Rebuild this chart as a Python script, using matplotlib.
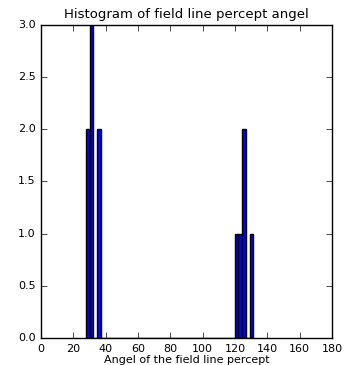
import matplotlib
matplotlib.use("Agg")
import matplotlib.pyplot as plt

plt.style.use("classic")

angles = [27.8, 28.5, 30.5, 31.0, 31.5, 35.5, 36.0,
          120.5, 122.8, 125.0, 125.5, 131.3]
n_bins = 45
title = "Histogram of field line percept angel"
xlabel = "Angel of the field line percept"

fig = plt.figure(figsize=(3.5, 3.65), dpi=100)
ax = fig.add_axes([0.117, 0.074, 0.832, 0.858])
ax.hist(angles, bins=n_bins, facecolor="blue", edgecolor="black", linewidth=1)
ax.set_xlim(0, 180)
ax.set_ylim(0, 3.0)
ax.set_xticks(range(0, 181, 20))
ax.set_yticks([0, 0.5, 1.0, 1.5, 2.0, 2.5, 3.0])
ax.tick_params(labelsize=8)
ax.set_title(title, fontsize=9.5)
ax.set_xlabel(xlabel, fontsize=8, labelpad=1)
fig.savefig("out.png", dpi=100)
